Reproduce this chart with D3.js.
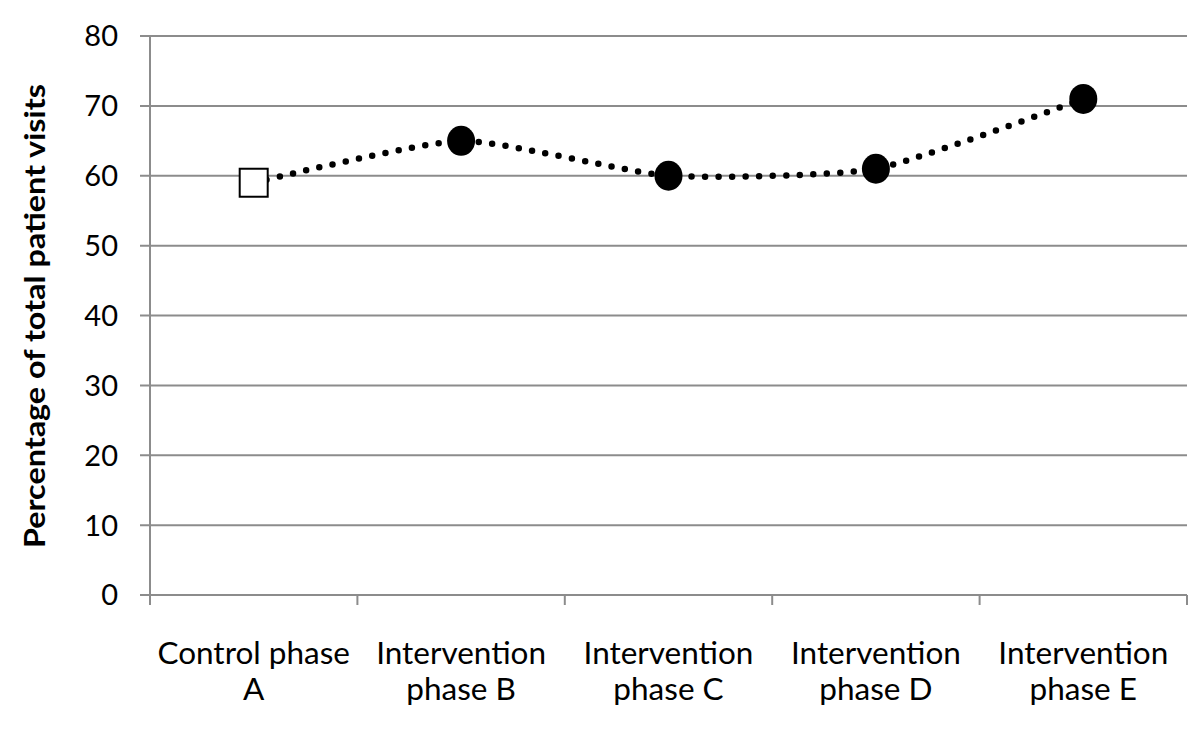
<!DOCTYPE html>
<html><head><meta charset="utf-8">
<script src="https://cdnjs.cloudflare.com/ajax/libs/d3/7.8.5/d3.min.js"></script>
<style>body{margin:0;background:#fff}svg{display:block}text{font-family:Lato,"Open Sans",sans-serif;fill:#000}</style>
</head><body>
<script>
const categories = [["Control phase","A"],["Intervention","phase B"],["Intervention","phase C"],["Intervention","phase D"],["Intervention","phase E"]];
const values = [59, 65, 60, 61, 71];
const markerTypes = ["square","circle","circle","circle","circle"];
const yTicks = [0,10,20,30,40,50,60,70,80];
const yTitle = "Percentage of total patient visits";

const W=1200,H=729;
const m={left:150,right:13,top:36,bottom:134};
const svg=d3.select("body").append("svg").attr("width",W).attr("height",H);
const x=d3.scaleBand().domain(d3.range(categories.length)).range([m.left,W-m.right]).padding(0);
const y=d3.scaleLinear().domain([0,80]).range([H-m.bottom,m.top]);
const grey="#8c8c8c";

svg.append("g").selectAll("line").data(yTicks).join("line")
 .attr("x1",m.left-10).attr("x2",W-m.right).attr("y1",d=>y(d)).attr("y2",d=>y(d))
 .attr("stroke",grey).attr("stroke-width",2);
svg.append("line").attr("x1",m.left).attr("x2",m.left).attr("y1",m.top).attr("y2",y(0)+10).attr("stroke",grey).attr("stroke-width",2);
const bounds=d3.range(categories.length+1).map(i=>i<categories.length?x(i):x(categories.length-1)+x.bandwidth());
svg.append("g").selectAll("line").data(bounds).join("line")
 .attr("x1",d=>d).attr("x2",d=>d).attr("y1",y(0)).attr("y2",y(0)+10).attr("stroke",grey).attr("stroke-width",2);
svg.append("g").selectAll("text").data(yTicks).join("text")
 .attr("x",m.left-32).attr("y",d=>y(d)).attr("dy","0.36em").attr("text-anchor","end")
 .attr("font-size",29).text(d=>d);
const xl=svg.append("g").selectAll("text").data(categories).join("text")
 .attr("text-anchor","middle").attr("font-size",31.5);
xl.each(function(d,i){
  const t=d3.select(this);
  d.forEach((ln,j)=>t.append("tspan").attr("x",x(i)+x.bandwidth()/2).attr("y",664+j*36).text(ln));
});
svg.append("text").attr("transform",`translate(45,316) rotate(-90)`)
 .attr("text-anchor","middle").attr("font-size",28).attr("font-weight","bold")
 .attr("textLength",464).attr("lengthAdjust","spacingAndGlyphs").text(yTitle);

const cx=i=>x(i)+x.bandwidth()/2;
const line=d3.line().x((d,i)=>cx(i)).y(d=>y(d)).curve(d3.curveCardinal.tension(0.45));
svg.append("path").datum(values).attr("d",line).attr("fill","none").attr("stroke","#000")
 .attr("stroke-width",6.5).attr("stroke-linecap","round").attr("stroke-dasharray","0 13.5");
values.forEach((v,i)=>{
  if(markerTypes[i]==="square"){
    svg.append("rect").attr("x",cx(i)-14).attr("y",y(v)-14).attr("width",28).attr("height",28)
     .attr("fill","#fff").attr("stroke","#000").attr("stroke-width",2);
  } else {
    svg.append("ellipse").attr("cx",cx(i)).attr("cy",y(v)).attr("rx",14).attr("ry",15).attr("fill","#000");
  }
});
</script>
</body></html>
